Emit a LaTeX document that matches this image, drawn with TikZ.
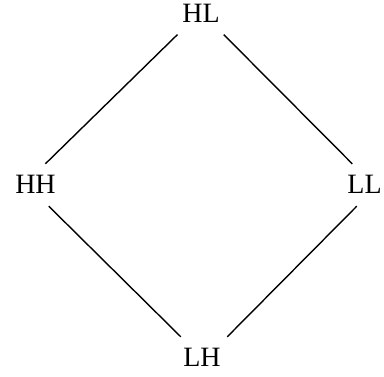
\documentclass[tikz,border=0pt]{standalone}
\usepackage{fontspec}
\setmainfont{Liberation Serif}
\usetikzlibrary{positioning}

\begin{document}
\begin{tikzpicture}[x=1pt, y=1pt,
    state/.style={font=\fontsize{28}{31}\selectfont, text height=18pt, text depth=0pt,
      inner xsep=9pt, inner ysep=12pt},
    edge/.style={line width=1.4pt}]
  \useasboundingbox (0,0) rectangle (384,377);
  \node[state] (HL) at (201,363.6) {HL};
  \node[state] (HH) at (35.5,192) {HH};
  \node[state] (LL) at (364.5,192) {LL};
  \node[state] (LH) at (202,19) {LH};
  \draw[edge] (HL.222) -- (HH.65);
  \draw[edge] (HL.317) -- (LL.120);
  \draw[edge] (HH.302) -- (LH.135);
  \draw[edge] (LL.250) -- (LH.40);
\end{tikzpicture}
\end{document}
